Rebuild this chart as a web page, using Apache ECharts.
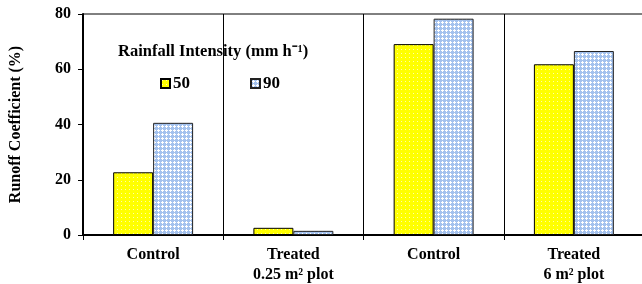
<!DOCTYPE html>
<html><head><meta charset="utf-8">
<script src="https://cdn.jsdelivr.net/npm/echarts@6/dist/echarts.min.js"></script>
<style>html,body{margin:0;padding:0;background:#fff}#c{width:642px;height:284px}</style>
</head><body><div id="c"></div>
<script>
const categories = ['Control', 'Treated\n0.25 m² plot', 'Control', 'Treated\n6 m² plot'];
const seriesNames = ['50', '90'];
const values50 = [22.7, 2.6, 69.1, 61.8];
const values90 = [40.6, 1.5, 78.3, 66.6];
const yTicks = [0, 20, 40, 60, 80];

function makePattern(kind) {
  const c = document.createElement('canvas');
  c.width = 4; c.height = 4;
  const g = c.getContext('2d');
  if (kind === 'yellow') {
    g.fillStyle = '#ffff00'; g.fillRect(0, 0, 4, 4);
    g.fillStyle = '#ffffaa'; g.fillRect(1, 1, 1, 1);
  } else {
    g.fillStyle = '#a4c2ee'; g.fillRect(0, 0, 4, 4);
    g.fillStyle = '#ffffff';
    g.fillRect(2, 1, 1, 3); g.fillRect(1, 2, 3, 1);
  }
  return { image: c, repeat: 'repeat' };
}

const font = 'Liberation Serif';
const chart = echarts.init(document.getElementById('c'), null, { renderer: 'canvas' });
chart.setOption({
  animation: false,
  grid: { left: 83, top: 14, width: 561, height: 221, show: true, borderColor: '#000', borderWidth: 1,
    backgroundColor: 'transparent', containLabel: false, outerBoundsMode: 'none' },
  legend: {
    data: seriesNames, left: 155, top: 70, itemWidth: 9, itemHeight: 9, itemGap: 60,
    icon: 'rect',
    textStyle: { fontFamily: font, fontWeight: 'bold', fontSize: 17, color: '#000', padding: [0,0,0,-2] }
  },
  graphic: [{
    type: 'text', left: 118, top: 43,
    style: { text: 'Rainfall Intensity (mm h⁻¹)', font: 'bold 16.5px "Liberation Serif"', fill: '#000' }
  }],
  xAxis: {
    type: 'category', data: categories,
    axisLine: { lineStyle: { color: '#000', width: 2 } },
    axisTick: { show: true, length: 5, lineStyle: { color: '#000' } },
    splitLine: { show: true, lineStyle: { color: '#000', width: 1 } },
    axisLabel: { fontFamily: font, fontWeight: 'bold', fontSize: 16, color: '#000', margin: 10, lineHeight: 20 }
  },
  yAxis: {
    type: 'value', min: 0, max: 80, interval: 20,
    name: 'Runoff Coefficient (%)', nameLocation: 'middle', nameGap: 59,
    nameTextStyle: { fontFamily: font, fontWeight: 'bold', fontSize: 16, color: '#000' },
    axisLine: { show: true, lineStyle: { color: '#000', width: 2 } },
    axisTick: { show: true, length: 5, lineStyle: { color: '#000' } },
    splitLine: { show: false },
    axisLabel: { fontFamily: font, fontWeight: 'bold', fontSize: 16, color: '#000', margin: 12,
      formatter: v => yTicks.includes(v) ? String(v) : '' }
  },
  series: [
    { name: seriesNames[0], type: 'bar', data: values50, barGap: '0%', barCategoryGap: '43%',
      itemStyle: { color: makePattern('yellow'), borderColor: '#000', borderWidth: 1 } },
    { name: seriesNames[1], type: 'bar', data: values90, barGap: '0%', barCategoryGap: '43%',
      itemStyle: { color: makePattern('blue'), borderColor: '#222', borderWidth: 1 } }
  ]
});
</script></body></html>
